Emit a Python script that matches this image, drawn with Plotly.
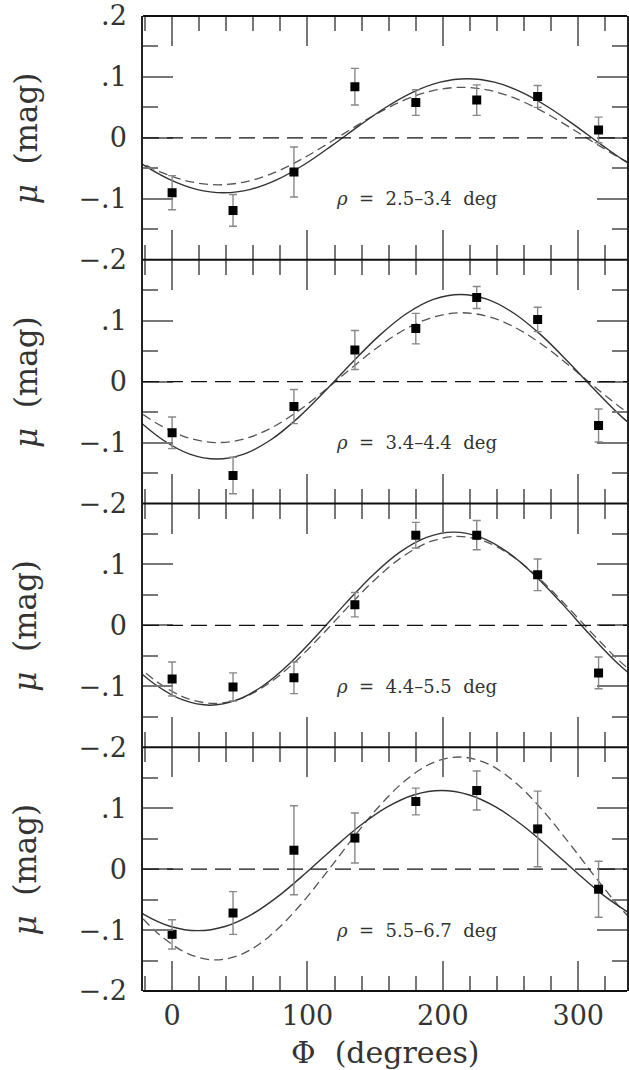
import plotly.graph_objects as go
from plotly.subplots import make_subplots

# ---------------- data ----------------
phi = [0, 45, 90, 135, 180, 225, 270, 315]

mu_p1 = [-0.090, -0.119, -0.056, 0.084, 0.058, 0.062, 0.068, 0.013]
err_p1 = [0.028, 0.026, 0.041, 0.030, 0.021, 0.025, 0.018, 0.021]
mu_p2 = [-0.084, -0.154, -0.041, 0.052, 0.087, 0.138, 0.102, -0.072]
err_p2 = [0.026, 0.030, 0.028, 0.032, 0.025, 0.018, 0.020, 0.027]
mu_p3 = [-0.088, -0.101, -0.086, 0.034, 0.148, 0.148, 0.083, -0.078]
err_p3 = [0.028, 0.023, 0.026, 0.020, 0.021, 0.024, 0.026, 0.026]
mu_p4 = [-0.107, -0.072, 0.031, 0.051, 0.111, 0.129, 0.066, -0.033]
err_p4 = [0.024, 0.035, 0.073, 0.041, 0.022, 0.032, 0.062, 0.046]

# fitted curves (solid and dashed)
phi_s1 = [-42, -22, -2, 18, 38, 58, 78, 98, 118, 138, 158, 178, 198, 218, 238, 258, 278, 298, 318, 338, 358]
fit_s1 = [-0.0127, -0.0433, -0.0681, -0.0844, -0.0900, -0.0844, -0.0681, -0.0433, -0.0127, 0.0197, 0.0503,
          0.0751, 0.0914, 0.0970, 0.0914, 0.0751, 0.0503, 0.0197, -0.0127, -0.0433, -0.0681]
phi_d1 = [-46, -26, -6, 14, 34, 54, 74, 94, 114, 134, 154, 174, 194, 214, 234, 254, 274, 294, 314, 334, 354]
fit_d1 = [-0.0109, -0.0370, -0.0583, -0.0722, -0.0770, -0.0722, -0.0583, -0.0370, -0.0109, 0.0169, 0.0430,
          0.0643, 0.0782, 0.0830, 0.0782, 0.0643, 0.0430, 0.0169, -0.0109, -0.0370, -0.0583]

phi_s2 = [-47, -27, -7, 13, 33, 53, 73, 93, 113, 133, 153, 173, 193, 213, 233, 253, 273, 293, 313, 333, 353]
fit_s2 = [-0.0154, -0.0595, -0.0954, -0.1189, -0.1270, -0.1189, -0.0954, -0.0595, -0.0154, 0.0314, 0.0755,
          0.1114, 0.1349, 0.1430, 0.1349, 0.1114, 0.0755, 0.0314, -0.0154, -0.0595, -0.0954]
phi_d2 = [-46, -26, -6, 14, 34, 54, 74, 94, 114, 134, 154, 174, 194, 214, 234, 254, 274, 294, 314, 334, 354]
fit_d2 = [-0.0120, -0.0468, -0.0751, -0.0936, -0.1000, -0.0936, -0.0751, -0.0468, -0.0120, 0.0250, 0.0598,
          0.0881, 0.1066, 0.1130, 0.1066, 0.0881, 0.0598, 0.0250, -0.0120, -0.0468, -0.0751]

phi_s3 = [-52, -32, -12, 8, 28, 48, 68, 88, 108, 128, 148, 168, 188, 208, 228, 248, 268, 288, 308, 328, 348]
fit_s3 = [-0.0137, -0.0600, -0.0978, -0.1224, -0.1310, -0.1224, -0.0978, -0.0600, -0.0137, 0.0357, 0.0820,
          0.1198, 0.1444, 0.1530, 0.1444, 0.1198, 0.0820, 0.0357, -0.0137, -0.0600, -0.0978]
phi_d3 = [-49, -29, -9, 11, 31, 51, 71, 91, 111, 131, 151, 171, 191, 211, 231, 251, 271, 291, 311, 331, 351]
fit_d3 = [-0.0148, -0.0595, -0.0959, -0.1197, -0.1280, -0.1197, -0.0959, -0.0595, -0.0148, 0.0328, 0.0775,
          0.1139, 0.1377, 0.1460, 0.1377, 0.1139, 0.0775, 0.0328, -0.0148, -0.0595, -0.0959]

phi_s4 = [-61, -41, -21, -1, 19, 39, 59, 79, 99, 119, 139, 159, 179, 199, 219, 239, 259, 279, 299, 319, 339]
fit_s4 = [-0.0060, -0.0435, -0.0741, -0.0941, -0.1010, -0.0941, -0.0741, -0.0435, -0.0060, 0.0340, 0.0715,
          0.1021, 0.1221, 0.1290, 0.1221, 0.1021, 0.0715, 0.0340, -0.0060, -0.0435, -0.0741]
phi_d4 = [-48, -28, -8, 12, 32, 52, 72, 92, 112, 132, 152, 172, 192, 212, 232, 252, 272, 292, 312, 332, 352]
fit_d4 = [-0.0114, -0.0658, -0.1100, -0.1390, -0.1490, -0.1390, -0.1100, -0.0658, -0.0114, 0.0464, 0.1008,
          0.1450, 0.1740, 0.1840, 0.1740, 0.1450, 0.1008, 0.0464, -0.0114, -0.0658, -0.1100]

rho_labels = ["2.5–3.4", "3.4–4.4", "4.4–5.5", "5.5–6.7"]

y_tickvals = [-0.2, -0.1, 0, 0.1, 0.2]
y_ticktext_top = ["−.2", "−.1", "0", ".1", ".2"]
y_ticktext = ["−.2", "−.1", "0", ".1", ""]
y_minor = [-0.15, -0.05, 0.05, 0.15]
x_tickvals = [0, 100, 200, 300]
x_ticktext = ["0", "100", "200", "300"]

panels = [
    (mu_p1, err_p1, phi_s1, fit_s1, phi_d1, fit_d1),
    (mu_p2, err_p2, phi_s2, fit_s2, phi_d2, fit_d2),
    (mu_p3, err_p3, phi_s3, fit_s3, phi_d3, fit_d3),
    (mu_p4, err_p4, phi_s4, fit_s4, phi_d4, fit_d4),
]

# ---------------- figure ----------------
FONT = "DejaVu Serif"
TXT = "#333333"
TICK = "#777777"
fig = make_subplots(rows=4, cols=1, shared_xaxes=True, vertical_spacing=0)

for i, (mu, err, ps, fs, pd_, fd) in enumerate(panels):
    r = i + 1
    sfx = "" if r == 1 else str(r)
    fig.add_shape(type="line", xref=f"x{sfx} domain", yref=f"y{sfx}", x0=0, x1=1, y0=0, y1=0,
                  line=dict(color="#111111", width=1.3, dash="16px,8px"))
    fig.add_trace(go.Scatter(x=pd_, y=fd, mode="lines", line=dict(color="#555555", width=1.3, dash="9px,5px",
                             shape="spline"), showlegend=False, hoverinfo="skip"), row=r, col=1)
    fig.add_trace(go.Scatter(x=ps, y=fs, mode="lines", line=dict(color="#333333", width=1.4, shape="spline"),
                             showlegend=False, hoverinfo="skip"), row=r, col=1)
    fig.add_trace(go.Scatter(x=phi, y=mu, mode="markers",
                             marker=dict(symbol="square", size=9, color="black"),
                             error_y=dict(type="data", array=err, color="#888888", thickness=1.4, width=4),
                             showlegend=False), row=r, col=1)
    fig.add_annotation(x=119.5, y=-0.1, xref=f"x{sfx}", yref=f"y{sfx}",
                       text=f"<i>ρ</i>  =  {rho_labels[i]}  deg", showarrow=False, xanchor="left",
                       yanchor="middle", font=dict(family=FONT, size=18, color=TXT))
    fig.add_annotation(x=-0.2428, y=0.5, xref="paper", yref=f"y{sfx} domain",
                       text="<i>μ</i>  (mag)", textangle=-90, showarrow=False, xanchor="center",
                       yanchor="middle", font=dict(family=FONT, size=31, color=TXT))
    fig.update_yaxes(range=[-0.2, 0.2], tickmode="array", tickvals=y_tickvals,
                     ticktext=y_ticktext_top if r == 1 else y_ticktext,
                     ticks="inside", ticklen=30, tickwidth=1.5, tickcolor=TICK,
                     minor=dict(tickmode="array", tickvals=y_minor, ticks="inside", ticklen=15,
                                tickwidth=1.5, tickcolor=TICK, showgrid=False),
                     showline=True, linecolor="#222222", linewidth=1.5, mirror="ticks",
                     showgrid=False, zeroline=False, ticklabelstandoff=9,
                     tickfont=dict(family=FONT, size=27, color=TXT), row=r, col=1)
    fig.update_xaxes(range=[-21.5, 336], tickmode="array", tickvals=x_tickvals, ticktext=x_ticktext,
                     ticks="inside", ticklen=30, tickwidth=1.5, tickcolor=TICK,
                     minor=dict(dtick=20, tick0=0, ticks="inside", ticklen=15, tickwidth=1.5,
                                tickcolor=TICK, showgrid=False),
                     showline=False, mirror="ticks",
                     showgrid=False, zeroline=False, showticklabels=(r == 4), ticklabelstandoff=6,
                     tickfont=dict(family=FONT, size=27, color=TXT), row=r, col=1)

# horizontal frame lines (panel borders)
for yb in [0.0, 0.25, 0.5, 0.75, 1.0]:
    fig.add_shape(type="line", xref="paper", yref="paper", x0=0, x1=1, y0=yb, y1=yb,
                  line=dict(color="#111111", width=2))

fig.add_annotation(x=0.5, y=-0.0626, xref="paper", yref="paper", text="Φ  (degrees)", showarrow=False,
                   xanchor="center", yanchor="middle", font=dict(family=FONT, size=30, color=TXT))

fig.update_layout(width=629, height=1070, margin=dict(l=143, r=0, t=16, b=79),
                  paper_bgcolor="white", plot_bgcolor="white", showlegend=False)

fig.write_html("out.html", config={"displayModeBar": False},
               post_script="document.body.style.margin='0px';document.body.style.overflow='hidden';")
